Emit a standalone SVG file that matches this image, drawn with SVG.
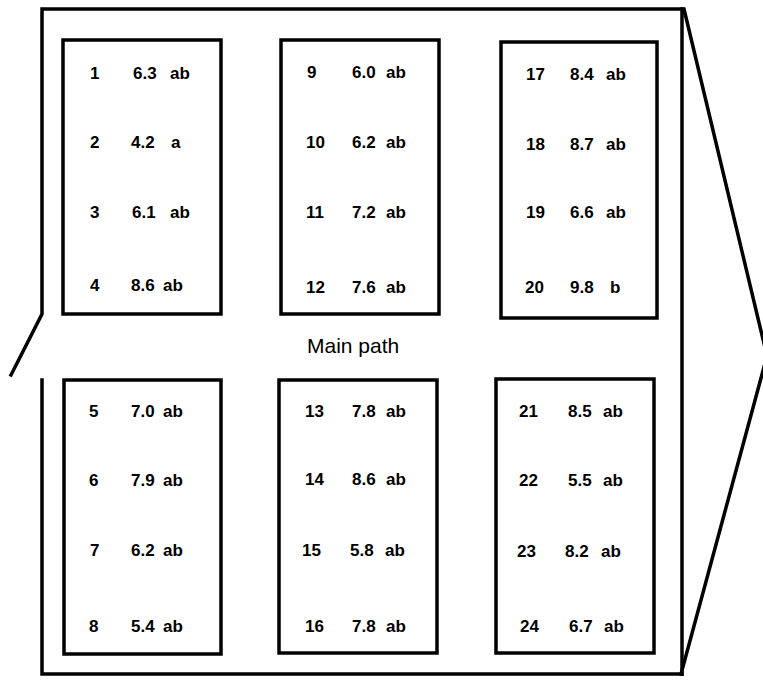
<svg xmlns="http://www.w3.org/2000/svg" width="763" height="684" viewBox="0 0 763 684">
<style>
.frame{fill:none;stroke:#000;stroke-width:3.5;stroke-linejoin:miter;stroke-linecap:square}
.box{fill:#fff;stroke:#000;stroke-width:3.5}
.t{font-family:"Liberation Sans",Arial,sans-serif;font-weight:bold;font-size:17px;fill:#000}
.lbl{font-family:"Liberation Sans",Arial,sans-serif;font-size:21px;fill:#000}
</style>
<rect width="763" height="684" fill="#fff"/>
<g id="frame">
<polyline class="frame" points="11,375 42,314 42,9 684,9 767,356 681,674"/>
<polyline class="frame" points="42,380 42,674 682,674"/>
<line class="frame" x1="682" y1="9" x2="682" y2="674"/>
</g>
<text class="lbl" x="307" y="353">Main path</text>
<g id="box-1-4">
<rect class="box" x="63" y="40" width="158" height="274"/>
<text class="t" x="90" y="79">1</text><text class="t" x="133" y="79">6.3</text><text class="t" x="170" y="79">ab</text>
<text class="t" x="90" y="148">2</text><text class="t" x="131" y="148">4.2</text><text class="t" x="171" y="148">a</text>
<text class="t" x="90" y="218">3</text><text class="t" x="132" y="218">6.1</text><text class="t" x="170" y="218">ab</text>
<text class="t" x="90" y="291">4</text><text class="t" x="131" y="291">8.6</text><text class="t" x="163" y="291">ab</text>
</g>
<g id="box-9-12">
<rect class="box" x="281" y="40" width="158" height="274"/>
<text class="t" x="307" y="78">9</text><text class="t" x="352" y="78">6.0</text><text class="t" x="386" y="78">ab</text>
<text class="t" x="306" y="148">10</text><text class="t" x="352" y="148">6.2</text><text class="t" x="386" y="148">ab</text>
<text class="t" x="306" y="218">11</text><text class="t" x="352" y="218">7.2</text><text class="t" x="386" y="218">ab</text>
<text class="t" x="306" y="293">12</text><text class="t" x="352" y="293">7.6</text><text class="t" x="386" y="293">ab</text>
</g>
<g id="box-17-20">
<rect class="box" x="501" y="42" width="156" height="276"/>
<text class="t" x="526" y="80">17</text><text class="t" x="570" y="80">8.4</text><text class="t" x="606" y="80">ab</text>
<text class="t" x="526" y="150">18</text><text class="t" x="570" y="150">8.7</text><text class="t" x="606" y="150">ab</text>
<text class="t" x="526" y="218">19</text><text class="t" x="570" y="218">6.6</text><text class="t" x="606" y="218">ab</text>
<text class="t" x="525" y="293">20</text><text class="t" x="570" y="293">9.8</text><text class="t" x="610" y="293">b</text>
</g>
<g id="box-5-8">
<rect class="box" x="64" y="380" width="157" height="274"/>
<text class="t" x="89" y="417">5</text><text class="t" x="131" y="417">7.0</text><text class="t" x="163" y="417">ab</text>
<text class="t" x="89" y="486">6</text><text class="t" x="131" y="486">7.9</text><text class="t" x="163" y="486">ab</text>
<text class="t" x="90" y="556">7</text><text class="t" x="131" y="556">6.2</text><text class="t" x="163" y="556">ab</text>
<text class="t" x="89" y="632">8</text><text class="t" x="131" y="632">5.4</text><text class="t" x="163" y="632">ab</text>
</g>
<g id="box-13-16">
<rect class="box" x="279" y="380" width="158" height="273"/>
<text class="t" x="305" y="417">13</text><text class="t" x="352" y="417">7.8</text><text class="t" x="386" y="417">ab</text>
<text class="t" x="305" y="485">14</text><text class="t" x="352" y="485">8.6</text><text class="t" x="386" y="485">ab</text>
<text class="t" x="302" y="556">15</text><text class="t" x="350" y="556">5.8</text><text class="t" x="385" y="556">ab</text>
<text class="t" x="305" y="632">16</text><text class="t" x="352" y="632">7.8</text><text class="t" x="386" y="632">ab</text>
</g>
<g id="box-21-24">
<rect class="box" x="496" y="379" width="158" height="274"/>
<text class="t" x="519" y="417">21</text><text class="t" x="568" y="417">8.5</text><text class="t" x="603" y="417">ab</text>
<text class="t" x="519" y="486">22</text><text class="t" x="568" y="486">5.5</text><text class="t" x="603" y="486">ab</text>
<text class="t" x="517" y="557">23</text><text class="t" x="565" y="557">8.2</text><text class="t" x="601" y="557">ab</text>
<text class="t" x="520" y="632">24</text><text class="t" x="569" y="632">6.7</text><text class="t" x="604" y="632">ab</text>
</g>
</svg>
